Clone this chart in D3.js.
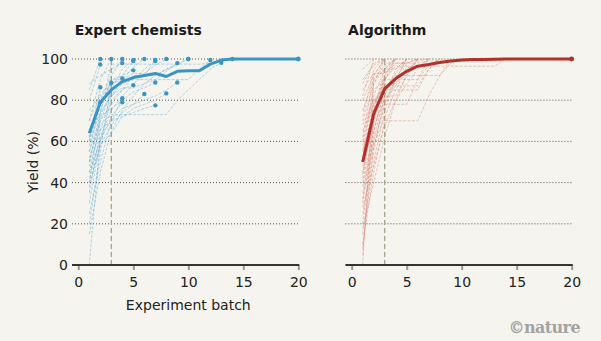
<!DOCTYPE html>
<html>
<head>
<meta charset="utf-8">
<script src="https://cdn.jsdelivr.net/npm/d3@7"></script>
<style>
  html, body { margin: 0; padding: 0; background: #f5f4ee; }
  svg { display: block; font-family: 'DejaVu Sans', sans-serif; }
</style>
</head>
<body>
<script>
/* global d3 */
// Yields by batch (index 0 = batch 1)
var panels = ['Expert chemists', 'Algorithm']
var yTicks = [0, 20, 40, 60, 80, 100]
var xTicks = [0, 5, 10, 15, 20]
var cutoffBatch = 3

var expertMean = [64, 79, 85, 89, 91, 92, 93, 91.5, 94, 94.3, 94.3, 97.5, 99.5,
  100, 100, 100, 100, 100, 100, 100]
var algorithmMean = [50, 73.5, 85.5, 90.5, 94, 96.5, 97.3, 98.3, 99, 99.5, 99.7,
  99.8, 99.9, 100, 100, 100, 100, 100, 100, 100]

var expertRuns = [
  [85, 100],
  [70, 90, 100],
  [55, 80, 92, 100],
  [40, 72, 85, 95, 99.5],
  [62, 78, 88, 90, 96, 100],
  [30, 60, 80, 85, 92, 92, 99.5],
  [75, 82, 82, 90, 93, 93, 97, 100],
  [50, 70, 78, 85, 88, 92, 92, 95, 97, 100],
  [60, 77, 90, 90, 90, 90, 90, 90, 90, 90, 95, 99.5],
  [45, 68, 73, 73, 73, 73, 73, 73, 80, 85, 90, 95, 98.2],
  [65, 73, 97.5, 97.5, 97.5, 97.5, 97.5, 97.5, 97.5, 97.5, 97.5, 98, 99, 100],
  [80, 97.3],
  [58, 75, 90, 92, 99],
  [35, 65, 82, 88, 90, 95, 99],
  [50, 74, 82, 86, 86, 88, 90, 94, 98],
  [88, 92, 95, 98],
  [70, 83, 88, 92, 94.5],
  [60, 86.3],
  [20, 55, 88.5],
  [52, 70, 84, 90.5],
  [42, 62, 75, 82, 87.3],
  [55, 72, 76, 80, 84, 86, 88.6],
  [48, 66, 70, 76, 78, 80, 82, 85, 88.6],
  [62, 79],
  [25, 50, 70, 81],
  [45, 60, 72, 79],
  [38, 58, 68, 74, 78, 83],
  [40, 58, 64, 72, 76, 78, 80, 83.3],
  [0, 62, 70, 72, 74, 76, 77.5],
  [15, 45, 65, 75, 82, 88, 92, 95, 98, 100]
]

var algorithmRuns = [
  [95, 100],
  [90, 97, 100],
  [80, 92, 100],
  [70, 88, 96, 100],
  [60, 85, 90, 100],
  [55, 75, 95, 100],
  [50, 80, 80, 90, 100],
  [45, 70, 88, 88, 98, 100],
  [40, 65, 85, 93, 100],
  [35, 60, 78, 78, 78, 90, 100],
  [30, 70, 90, 96.5, 96.5, 96.5, 96.5, 96.5, 96.5, 96.5, 96.5, 96.5, 96.5, 100],
  [25, 55, 82, 82, 92, 100],
  [20, 65, 85, 85, 85, 85, 95, 100],
  [15, 50, 75, 90, 100],
  [10, 45, 70, 70, 70, 70, 82, 92, 100],
  [5, 72, 92, 100],
  [0, 90, 97, 100],
  [85, 93, 93, 98, 98, 98, 99, 99, 99, 99, 99, 99, 99, 100],
  [75, 90, 95, 95, 100],
  [65, 78, 90, 90, 94, 99, 100],
  [58, 82, 95, 100],
  [48, 68, 80, 87, 87, 87, 95, 100],
  [42, 75, 92, 100],
  [38, 62, 82, 95, 100],
  [32, 58, 72, 85, 95, 100],
  [28, 48, 68, 80, 88, 95, 100],
  [52, 88, 100],
  [62, 92, 100],
  [72, 95, 100],
  [82, 100],
  [68, 80, 86, 92, 92, 92, 92, 92, 98, 100],
  [56, 70, 90, 98, 98, 100],
  [44, 78, 87, 87, 96, 96, 100],
  [18, 40, 62, 80, 92, 100],
  [88, 98, 100],
  [8, 58, 78, 90, 90, 90, 97, 100]
]

;(function () {
  'use strict'

  var dim = { w: 601, h: 341 }
  var plotTop = 59
  var plotBottom = 265

  var svg = d3.select('body').append('svg')
    .attr('width', dim.w)
    .attr('height', dim.h)

  var y = d3.scaleLinear().domain([0, 100]).range([plotBottom, plotTop])

  var cfg = [
    { title: panels[0], left: 78.3, runs: expertRuns, mean: expertMean,
      thin: '#4b9fcd', main: '#3a95c4', dots: true, yLabels: true },
    { title: panels[1], left: 351.7, runs: algorithmRuns, mean: algorithmMean,
      thin: '#d27563', main: '#b3302b', dots: false, yLabels: false }
  ]

  cfg.forEach(function (p) {
    var x = d3.scaleLinear().domain([0, 20]).range([p.left, p.left + 220])
    var g = svg.append('g')
    var x0 = x(-0.57)

    g.append('text')
      .attr('x', x(-0.33))
      .attr('y', 35)
      .attr('font-size', 14)
      .attr('font-weight', 'bold')
      .attr('fill', '#1a1a1a')
      .text(p.title)

    // dotted grid
    g.selectAll('.grid').data(yTicks.slice(1)).enter().append('line')
      .attr('x1', x0).attr('x2', x(20))
      .attr('y1', function (d) { return y(d) })
      .attr('y2', function (d) { return y(d) })
      .attr('stroke', '#555')
      .attr('stroke-width', 1)
      .attr('stroke-dasharray', '1,2')

    if (p.yLabels) {
      g.selectAll('.ylab').data(yTicks).enter().append('text')
        .attr('x', x0 - 4)
        .attr('y', function (d) { return y(d) })
        .attr('dy', '0.36em')
        .attr('text-anchor', 'end')
        .attr('font-size', 14)
        .attr('fill', '#222')
        .text(function (d) { return d })

      g.append('text')
        .attr('transform', 'translate(38,' + y(50) + ') rotate(-90)')
        .attr('text-anchor', 'middle')
        .attr('font-size', 14)
        .attr('fill', '#222')
        .text('Yield (%)')

      g.append('text')
        .attr('x', x(10))
        .attr('y', 310)
        .attr('text-anchor', 'middle')
        .attr('font-size', 14)
        .attr('fill', '#222')
        .text('Experiment batch')
    }

    // cutoff at batch 3
    g.append('line')
      .attr('x1', x(cutoffBatch)).attr('x2', x(cutoffBatch))
      .attr('y1', y(0)).attr('y2', y(100))
      .attr('stroke', '#aba68f')
      .attr('stroke-width', 1.4)
      .attr('stroke-dasharray', '5,3')

    var line = d3.line()
      .x(function (d, i) { return x(i + 1) })
      .y(function (d) { return y(d) })

    g.selectAll('.run').data(p.runs).enter().append('path')
      .attr('d', function (d) { return line(d) })
      .attr('fill', 'none')
      .attr('stroke', p.thin)
      .attr('stroke-opacity', 0.5)
      .attr('stroke-width', 0.8)
      .attr('stroke-dasharray', '3,1.5')

    if (p.dots) {
      g.selectAll('.stop').data(p.runs).enter().append('circle')
        .attr('cx', function (d) { return x(d.length) })
        .attr('cy', function (d) { return y(d[d.length - 1]) })
        .attr('r', 2.2)
        .attr('fill', p.main)
    }

    g.append('path')
      .attr('d', line(p.mean))
      .attr('fill', 'none')
      .attr('stroke', p.main)
      .attr('stroke-width', 3)
      .attr('stroke-linejoin', 'round')

    g.append('circle')
      .attr('cx', x(p.mean.length))
      .attr('cy', y(p.mean[p.mean.length - 1]))
      .attr('r', 2.4)
      .attr('fill', p.main)

    // x axis
    var axis = d3.axisBottom(x).tickValues(xTicks)
      .tickSizeInner(5).tickSizeOuter(0).tickPadding(7)
    var ax = g.append('g')
      .attr('transform', 'translate(0,' + plotBottom + ')')
      .call(axis)
    ax.select('.domain').remove()
    ax.selectAll('.tick line').attr('stroke', '#999').attr('stroke-width', 2)
    ax.selectAll('.tick text')
      .attr('font-size', 14)
      .attr('font-family', 'DejaVu Sans, sans-serif')
      .attr('fill', '#222')

    g.append('line')
      .attr('x1', x0).attr('x2', x(20) + 1)
      .attr('y1', plotBottom).attr('y2', plotBottom)
      .attr('stroke', '#333')
      .attr('stroke-width', 2)
  })

  svg.append('text')
    .attr('x', 580)
    .attr('y', 333)
    .attr('text-anchor', 'end')
    .attr('font-size', 16)
    .attr('font-weight', 'bold')
    .attr('font-family', 'DejaVu Serif, serif')
    .attr('letter-spacing', -0.6)
    .attr('fill', '#a3a3a3')
    .text('©nature')
}())
</script>
</body>
</html>
